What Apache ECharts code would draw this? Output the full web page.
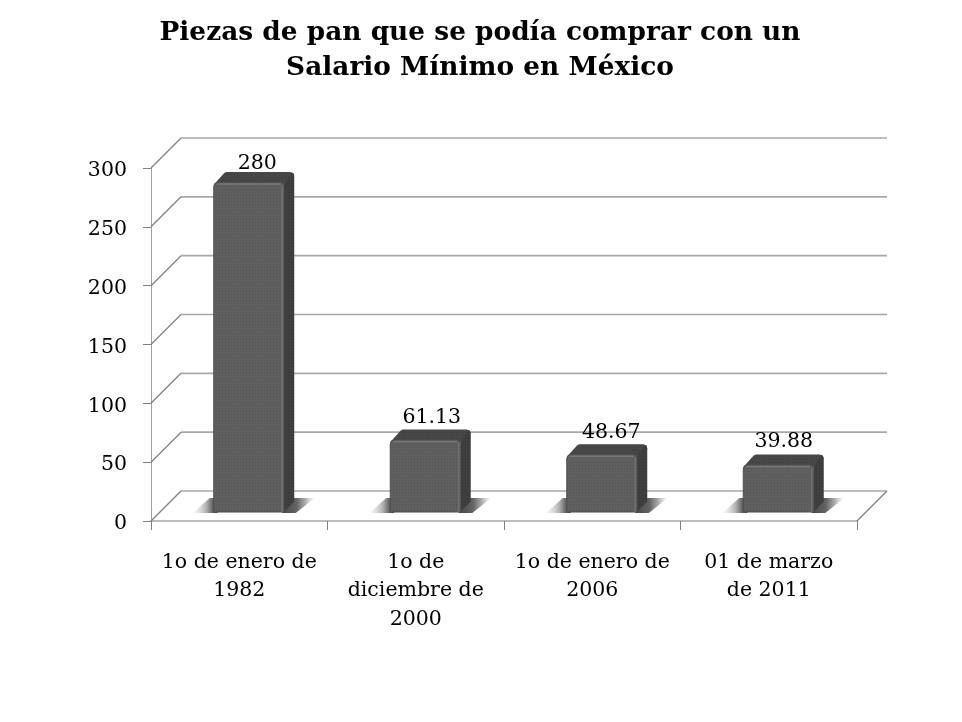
<!DOCTYPE html>
<html><head><meta charset="utf-8">
<style>html,body{margin:0;padding:0;background:#fff}#c{width:962px;height:722px}</style>
<script src="https://cdn.jsdelivr.net/npm/echarts@6/dist/echarts.min.js"></script>
</head><body><div id="c"></div>
<script>
var titleText = 'Piezas de pan que se podía comprar con un\nSalario Mínimo en México';
var categories = ['1o de enero de\n1982', '1o de\ndiciembre de\n2000', '1o de enero de\n2006', '01 de marzo\nde 2011'];
var values = [280, 61.13, 48.67, 39.88];
var valueLabels = ['280', '61.13', '48.67', '39.88'];
var yTicks = [0, 50, 100, 150, 200, 250, 300];

var FONT = '"DejaVu Serif", serif';
var WALL = 30, BAR_W = 70, DEPTH = 10.5, SHIFT_X = 9.5, SHIFT_Y = 9;
var LABEL_NUDGE = [[2, 3], [0, -1], [3, -1], [-1, -2]];

function dither(base, dot) {
  var c = document.createElement('canvas'); c.width = 3; c.height = 3;
  var g = c.getContext('2d');
  g.fillStyle = base; g.fillRect(0, 0, 3, 3);
  g.fillStyle = dot; g.fillRect(0, 0, 1, 1);
  return { image: c, repeat: 'repeat' };
}
var frontFill = dither('#5f5f5f', '#555555');
var topFill = dither('#474747', '#3f3f3f');
var sideFill = dither('#3f3f3f', '#363636');

function wallItem(params, api) {
  var v = api.value(0);
  var p = api.coord([0, v]);
  var cs = params.coordSys;
  var x0 = cs.x, x1 = cs.x + cs.width, y = p[1];
  var children = [
    { type: 'line', shape: { x1: x0 + WALL, y1: y - WALL, x2: x1 + WALL, y2: y - WALL },
      style: { stroke: '#a8a8a8', lineWidth: 1.6 } },
    { type: 'line', shape: { x1: x0, y1: y, x2: x0 + WALL, y2: y - WALL },
      style: { stroke: '#808080', lineWidth: 1.3 } }
  ];
  if (v === 0) {
    children.push({ type: 'line', shape: { x1: x1, y1: y, x2: x1 + WALL, y2: y - WALL },
      style: { stroke: '#808080', lineWidth: 1.3 } });
  }
  return { type: 'group', children: children };
}

function barItem(params, api) {
  var i = api.value(0), v = api.value(1);
  var base = api.coord([i, 0]), top = api.coord([i, v]);
  var l = base[0] + SHIFT_X - BAR_W / 2, r = l + BAR_W;
  var by = base[1] - SHIFT_Y, ty = top[1] - SHIFT_Y;
  var d = DEPTH;
  function grad(stops) {
    return { type: 'linear', x: 0, y: 0, x2: 1, y2: 0, colorStops: stops };
  }
  var topPts = [[l + 1, ty + 1], [l + d, ty - d + 1], [l + d + 2, ty - d], [r + d - 4, ty - d], [r + d - 1, ty - d + 1], [r + d, ty - d + 4], [r + d - 2, ty - d + 5], [r, ty + 2]];
  var sidePts = [[r, ty + 2], [r + d - 3, ty - d + 2], [r + d - 1, ty - d + 1], [r + d, ty - d + 4], [r + d, by - d], [r, by]];
  var n = LABEL_NUDGE[i];
  return { type: 'group', children: [
    { type: 'polygon', shape: { points: [[l - 21, by + 1], [l - 4, by - 14], [l + 4, by - 14], [l + 4, by + 1]] },
      style: { fill: grad([{ offset: 0, color: 'rgba(225,225,225,0.2)' }, { offset: 0.55, color: 'rgba(175,175,175,1)' }, { offset: 0.85, color: 'rgba(85,85,85,1)' }, { offset: 1, color: 'rgba(70,70,70,1)' }]) } },
    { type: 'polygon', shape: { points: [[r - 2, by + 1], [r + 10, by - 14], [r + 31, by - 14], [r + 12, by + 1]] },
      style: { fill: grad([{ offset: 0, color: 'rgba(70,70,70,1)' }, { offset: 0.45, color: 'rgba(100,100,100,1)' }, { offset: 0.72, color: 'rgba(175,175,175,1)' }, { offset: 1, color: 'rgba(225,225,225,0.2)' }]) } },
    { type: 'polygon', shape: { points: topPts }, style: { fill: topFill } },
    { type: 'polygon', shape: { points: sidePts }, style: { fill: sideFill } },
    { type: 'rect', shape: { x: l, y: ty, width: BAR_W, height: by - ty, r: [4, 4, 0, 0] },
      style: { fill: frontFill, stroke: '#4f4f4f', lineWidth: 1 } },
    { type: 'line', shape: { x1: l + 3, y1: ty + 1.5, x2: r - 3, y2: ty + 1.5 },
      style: { stroke: '#787878', lineWidth: 1.5 } },
    { type: 'line', shape: { x1: r - 1.5, y1: ty + 3, x2: r - 1.5, y2: by },
      style: { stroke: '#707070', lineWidth: 1.5 } },
    { type: 'text', style: { text: valueLabels[i], x: (l + r) / 2 + 6.5 + n[0], y: ty - d - 11 + n[1],
      align: 'center', verticalAlign: 'middle', font: '20.5px ' + FONT, fill: '#000' } }
  ] };
}

var chart = echarts.init(document.getElementById('c'), null, { renderer: 'canvas', width: 962, height: 722 });
chart.setOption({
  animation: false,
  backgroundColor: '#fff',
  title: { text: titleText, left: 475, top: 11, textAlign: 'center',
    textStyle: { fontFamily: FONT, fontWeight: 'bold', fontSize: 26.4, lineHeight: 35, color: '#000' } },
  grid: { left: 151, right: 105, top: 168, bottom: 201 },
  xAxis: { type: 'category', data: categories,
    axisLine: { show: true, lineStyle: { color: '#bdbdbd', width: 2 } },
    axisTick: { show: true, length: 9, lineStyle: { color: '#808080' } },
    axisLabel: { interval: 0, margin: 27, fontFamily: FONT, fontSize: 20.5, lineHeight: 28.5, color: '#000' } },
  yAxis: { type: 'value', min: 0, max: 300, interval: 50,
    axisLine: { show: true, lineStyle: { color: '#a0a0a0' } },
    axisTick: { show: true, length: 8, lineStyle: { color: '#808080' } },
    splitLine: { show: false },
    axisLabel: { margin: 24, formatter: '{a|{value}}', rich: { a: { padding: [6, 0, 0, 0], fontFamily: FONT, fontSize: 20.5, color: '#000' } } } },
  series: [
    { type: 'custom', z: 1, silent: true, data: yTicks.map(function (t) { return [t]; }),
      encode: { y: 0 }, renderItem: wallItem },
    { type: 'custom', z: 3, silent: true, data: values.map(function (v, i) { return [i, v]; }),
      encode: { x: 0, y: 1 }, renderItem: barItem }
  ]
});
</script></body></html>
